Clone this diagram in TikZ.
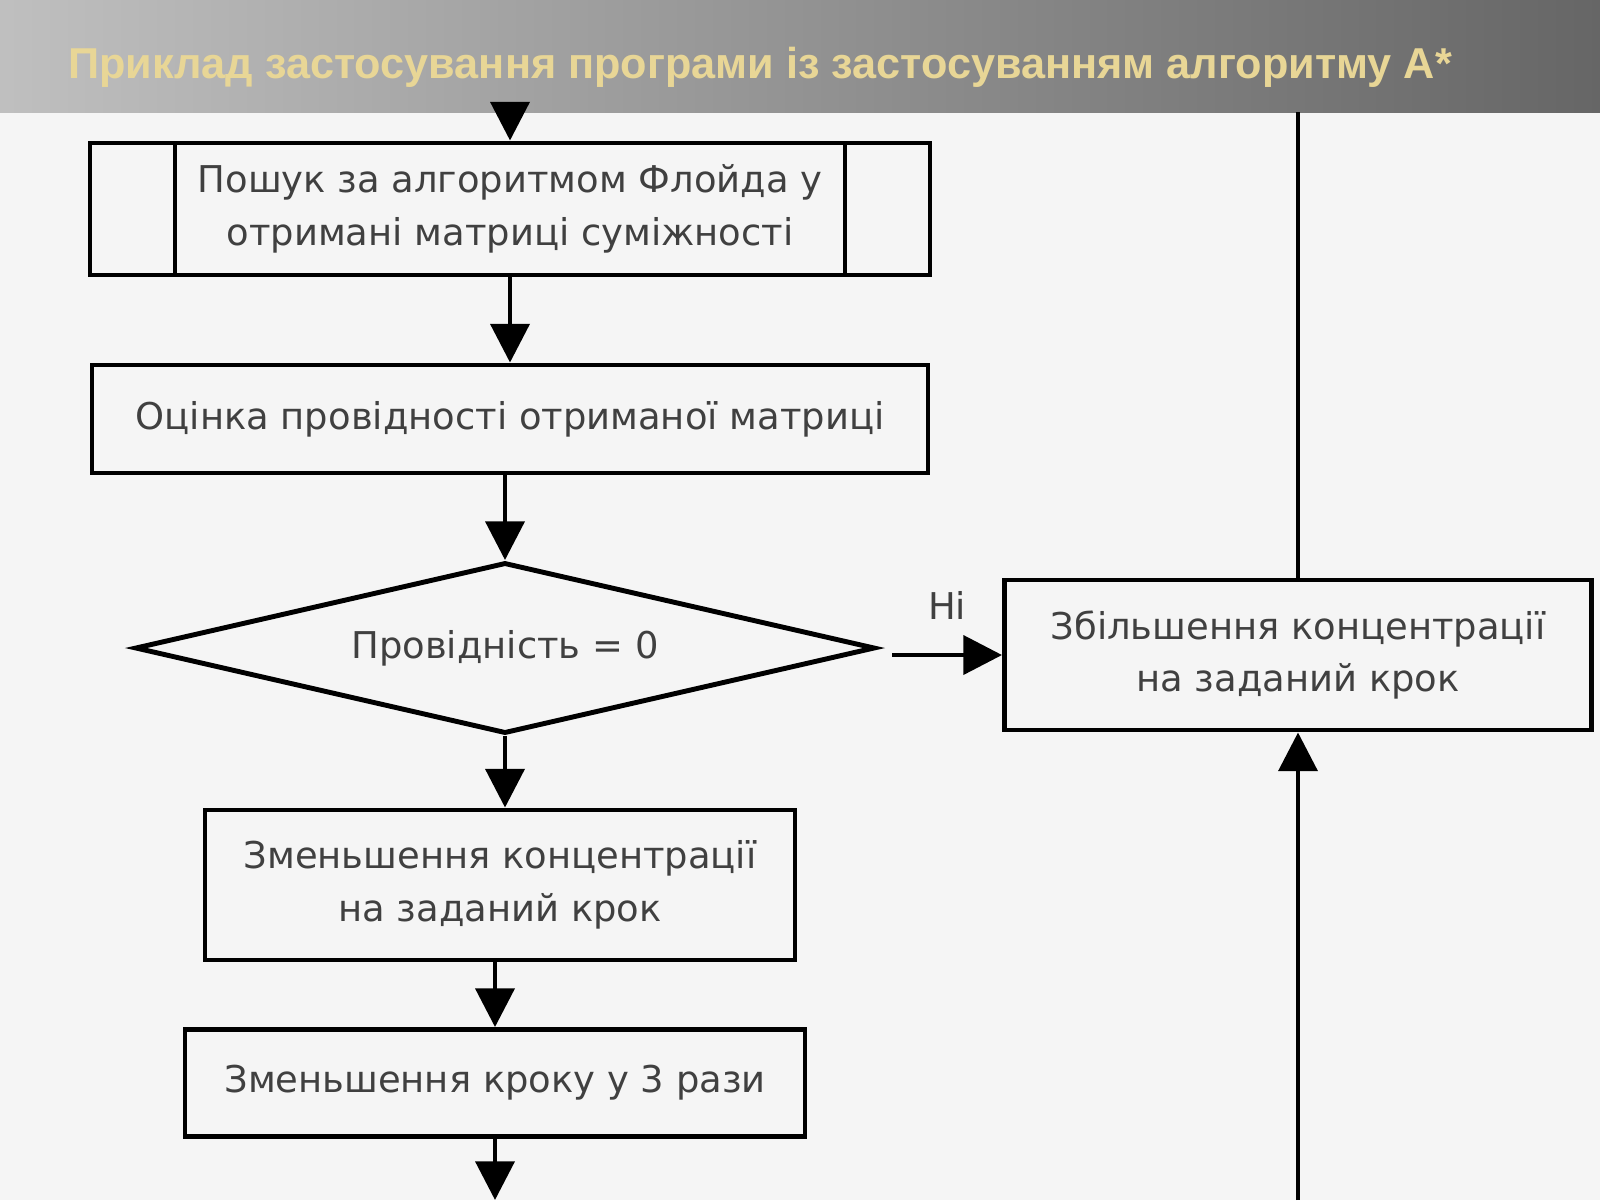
\documentclass[tikz,border=0pt]{standalone}
\usepackage{fontspec}
\setmainfont{DejaVu Sans}
\newfontfamily\titlefont{Liberation Sans}
\usetikzlibrary{shapes.geometric,arrows.meta}
\tikzset{
  block/.style = {draw, line width=1.4pt, rectangle, align=center, font=\fontsize{10.5}{15}\selectfont, text=black!75},
  flow/.style = {line width=1.4pt, -{Triangle[length=11pt,width=11pt]}}
}
\begin{document}
\begin{tikzpicture}
\useasboundingbox (0,0) rectangle (16,-12);
\fill[black!4] (0,0) rectangle (16,-12);
\shade[left color=black!25, right color=black!60] (0,0) rectangle (16,-1.12);
\node[text={rgb,255:red,232;green,214;blue,150}, font=\titlefont\bfseries\fontsize{12.3}{14}\selectfont] (title) at (7.6,-0.67) {Приклад застосування програми із застосуванням алгоритму A*};

\node[block, minimum width=8.4cm, minimum height=1.32cm] (F) at (5.1,-2.09) {Пошук за алгоритмом Флойда у\\отримані матриці суміжності};
\draw[line width=1.4pt] (1.75,-1.43) -- (1.75,-2.75);
\draw[line width=1.4pt] (8.45,-1.43) -- (8.45,-2.75);
\node[block, minimum width=8.36cm, minimum height=1.08cm] (E) at (5.1,-4.19) {Оцінка провідності отриманої матриці};
\node[draw, line width=1.4pt, diamond, aspect=4.33, minimum width=7.4cm, minimum height=1.71cm, inner sep=0pt, font=\fontsize{10.5}{15}\selectfont, text=black!75] (D) at (5.05,-6.48) {Провідність = 0};
\node[block, minimum width=5.87cm, minimum height=1.5cm] (I) at (12.98,-6.55) {Збільшення концентрації\\на заданий крок};
\node[block, minimum width=5.9cm, minimum height=1.5cm] (R) at (5.0,-8.85) {Зменьшення концентрації\\на заданий крок};
\node[block, minimum width=6.2cm, minimum height=1.07cm] (S) at (4.95,-10.83) {Зменьшення кроку у 3 рази};
\coordinate (top) at (5.1,-1.12);
\coordinate (bot) at (4.95,-12);
\coordinate (rtop) at (12.98,-1.12);
\coordinate (rbot) at (12.98,-12);
\coordinate (no) at (8.92,-6.55);

\draw[flow] (top) -- (F.north);
\draw[flow] (F.south) -- (F.south |- E.north);
\draw[flow] (E.south -| D.north) -- (D.north);
\draw[flow] (no) -- (I.west) node[midway, above=6pt, font=\fontsize{10.5}{12}\selectfont, text=black!75] {Ні};
\draw[flow] (D.south) -- (D.south |- R.north);
\draw[flow] (R.south -| S.north) -- (S.north);
\draw[flow] (S.south) -- (bot);
\draw[flow] (rbot) -- (I.south);
\draw[line width=1.4pt] (I.north) -- (rtop);
\end{tikzpicture}
\end{document}
